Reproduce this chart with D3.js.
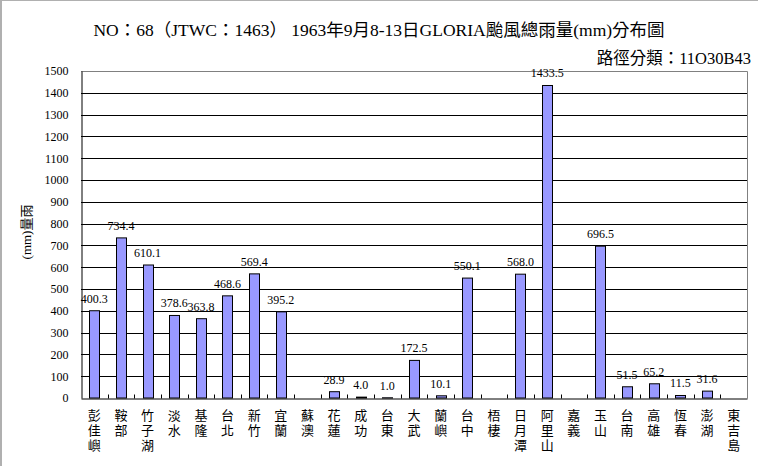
<!DOCTYPE html>
<html><head><meta charset="utf-8">
<script src="https://cdn.jsdelivr.net/npm/d3@7"></script>
<style>body{margin:0;background:#fff}svg{display:block}</style></head>
<body>
<svg id="chart" width="758" height="466"></svg>
<script>
const categories = ["彭佳嶼","鞍部","竹子湖","淡水","基隆","台北","新竹","宜蘭","蘇澳","花蓮","成功","台東","大武","蘭嶼","台中","梧棲","日月潭","阿里山","嘉義","玉山","台南","高雄","恆春","澎湖","東吉島"];
const rainfall = [400.3,734.4,610.1,378.6,363.8,468.6,569.4,395.2,null,28.9,4.0,1.0,172.5,10.1,550.1,null,568.0,1433.5,null,696.5,51.5,65.2,11.5,31.6,null];
const yTicks = [0,100,200,300,400,500,600,700,800,900,1000,1100,1200,1300,1400,1500];
const titleText = "NO：68（JTWC：1463） 1963年9月8-13日GLORIA颱風總雨量(mm)分布圖";
const subtitleText = "路徑分類：11O30B43";
const yAxisTitle = "(mm)量雨";

const svg = d3.select("#chart");
const W = 758, H = 466;
const m = {left: 81, right: 11, top: 71, bottom: 68};
const serif = "'Liberation Serif','Noto Sans CJK TC',serif";
const cjk = "'Noto Sans CJK TC','Liberation Serif',sans-serif";

// outer frame (left & top)
svg.append("line").attr("x1",1).attr("x2",1).attr("y1",0).attr("y2",H).attr("stroke","#b0b0b0").attr("stroke-width",2);
svg.append("line").attr("x1",0).attr("x2",W).attr("y1",0.5).attr("y2",0.5).attr("stroke","#b0b0b0");

const x = d3.scaleBand().domain(categories).range([m.left, W - m.right]).padding(0);
const y = d3.scaleLinear().domain([0, 1500]).range([H - m.bottom, m.top]);
const cr = v => Math.round(v) + 0.5;

// gridlines
svg.append("g").selectAll("line").data(yTicks.filter(t => t > 0 && t < 1500)).join("line")
  .attr("x1", m.left).attr("x2", W - m.right)
  .attr("y1", d => cr(y(d))).attr("y2", d => cr(y(d)))
  .attr("stroke", "#000").attr("stroke-width", 1);

// plot border top & right (gray)
svg.append("path")
  .attr("d", `M${m.left},${cr(y(1500))}H${cr(W - m.right)}V${cr(y(0))}`)
  .attr("fill","none").attr("stroke","#808080");

// bars
const bw = x.bandwidth() * 0.38;
const barData = categories.map((c, i) => ({c, v: rainfall[i]})).filter(d => d.v !== null);
svg.append("g").selectAll("rect").data(barData).join("rect")
  .attr("x", d => Math.round(x(d.c) + (x.bandwidth() - bw) / 2) + 0.5)
  .attr("y", d => y(d.v))
  .attr("width", Math.round(bw))
  .attr("height", d => y(0) - y(d.v))
  .attr("fill", "#9999ff").attr("stroke", "#000").attr("stroke-width", 1);

// value labels
svg.append("g").selectAll("text").data(barData).join("text")
  .attr("x", d => x(d.c) + x.bandwidth() / 2)
  .attr("y", d => y(d.v) - 8)
  .attr("text-anchor", "middle")
  .attr("font-family", serif).attr("font-size", 12)
  .text(d => d.v.toFixed(1));

// x axis
const xAxis = svg.append("g").attr("transform", `translate(0,${cr(y(0))})`)
  .call(d3.axisBottom(x).tickSize(0).tickFormat(""));
xAxis.select(".domain").attr("stroke", "#000");
// inner ticks at band boundaries
svg.append("g").selectAll("line").data(categories.slice(1)).join("line")
  .attr("x1", d => cr(x(d))).attr("x2", d => cr(x(d)))
  .attr("y1", cr(y(0))).attr("y2", cr(y(0)) - 4)
  .attr("stroke", "#000");

// category labels, vertical text
svg.append("g").selectAll("text").data(categories).join("text")
  .attr("font-family", cjk).attr("font-size", 13)
  .attr("writing-mode", "vertical-rl")
  .attr("letter-spacing", 2)
  .attr("x", d => x(d) + x.bandwidth() / 2)
  .attr("y", 409)
  .text(d => d);

// y axis
const yAxis = svg.append("g").attr("transform", `translate(${cr(m.left)},0)`)
  .call(d3.axisLeft(y).tickValues(yTicks).tickSize(0).tickPadding(13).tickFormat(d3.format("d")));
yAxis.select(".domain").attr("stroke", "#000");
yAxis.selectAll("text").attr("font-family", serif).attr("font-size", 12).attr("fill", "#000");

// y axis title
svg.append("text")
  .attr("transform", `translate(31,232) rotate(-90)`)
  .attr("text-anchor", "middle")
  .attr("font-family", serif).attr("font-size", 13)
  .text(yAxisTitle);

// titles
svg.append("text").attr("x", 379).attr("y", 36).attr("text-anchor", "middle")
  .attr("font-family", serif).attr("font-size", 17.5).text(titleText);
svg.append("text").attr("x", 751).attr("y", 64).attr("text-anchor", "end")
  .attr("font-family", serif).attr("font-size", 16.5).text(subtitleText);
</script>
</body></html>
